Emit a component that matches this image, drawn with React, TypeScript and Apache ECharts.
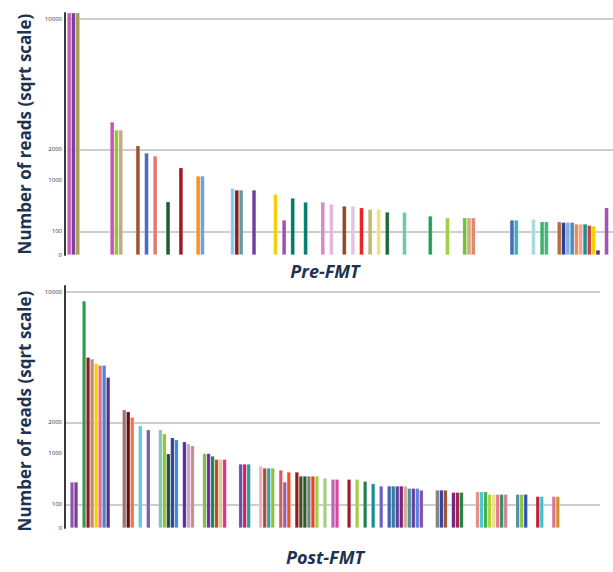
import React, { useEffect, useRef } from "react";
import * as echarts from "echarts";

// reads per taxon (null = empty position), ordered as in the figure
const preValues: (number | null)[] = [
  12000, 12000, 12000, null, null, null, null, null, null, null,
  3176, 2806, 2806, null, null, null, 2144, null, 1868, null,
  1760, null, null, 510, null, null, 1369, null, null, null,
  1121, 1121, null, null, null, null, null, null, 799, 759,
  759, null, null, 759, null, null, null, null, 662, null,
  220, null, 583, null, null, 504, null, null, null, 504,
  null, 467, null, null, 431, null, 431, null, 402, null,
  375, null, 375, null, 332, null, null, null, 327, null,
  null, null, null, null, 273, null, null, null, 250, null,
  null, null, 250, 250, 250, null, null, null, null, null,
  null, null, null, 220, 220, null, null, null, 229, null,
  199, 199, null, null, 199, 192, 192, 192, 173, 173,
  173, 158, 151, 4.5, null, 402, null,
];

const preColors: string[] = [
  "#c060b8", "#7a3f9a", "#a89c58",
  "#c855b0", "#8cc63f", "#c8a880",
  "#a0522d", "#4a6cc0", "#e07a70", "#1a5c30", "#a01828",
  "#f7941d", "#6fa0dc",
  "#8ec8ee", "#8b1a1a", "#5f9ea0",
  "#6f3fa0", "#f5d000", "#a050b0", "#007a6c", "#00806e",
  "#d08cc8", "#e0b8e0", "#8b4a2a", "#e4c4e4", "#e82020", "#c0b870", "#f0e080", "#1a6a3a",
  "#70c8a0", "#20a060", "#a0d040",
  "#70c040", "#d8a878", "#e08868",
  "#4a68b8", "#40b0b0", "#a8d8e8",
  "#3cb070", "#44b478",
  "#b07040", "#2c3c98", "#7eb0e0", "#4c8cc0", "#e09050", "#f4a0a0", "#1a9090", "#d04040", "#f8d000", "#602080",
  "#a050b0",
];

const postValues: (number | null)[] = [
  null, 380, 380, null, 9252, 5232, 5128, 4871, 4753, 4753,
  4078, null, null, null, 2513, 2429, 2200, null, 1879, null,
  1735, null, null, 1735, 1597, 991, 1464, 1400, null, 1337,
  1276, 1216, null, null, 997, 997, 931, 847, 847, 847,
  null, null, null, 735, 735, 735, null, null, 690, 646,
  646, 646, null, 604, 380, 563, null, 563, 485, 485,
  485, 485, 485, null, 449, null, 426, 426, null, null,
  426, null, 426, null, 392, null, 352, null, 317, null,
  317, 317, 317, 317, 317, 283, 283, 283, 259, null,
  null, null, 259, 259, 259, null, 229, 229, 229, null,
  null, null, 237, 237, 237, 204, 204, 204, 204, 204,
  null, null, 204, 204, 204, null, null, 180, 180, null,
  null, 180, 180, null, null, null, null, null, null, null,
  null, null, null,
];

const postColors: string[] = [
  "#9050b0", "#7a3a9a",
  "#2e9a50", "#901c1c", "#c08484", "#f8d000", "#f06890", "#4484d0", "#54308e",
  "#a07078", "#601010", "#f07050",
  "#60c8e0",
  "#7060b4",
  "#80c8b0", "#90c040", "#1a5030", "#304090", "#4484d0",
  "#503090", "#d0a0d0", "#c09090",
  "#80c040", "#6a30a0", "#208050", "#b05020", "#e0c890", "#e0308a",
  "#6050b0", "#d02050", "#20a0a0",
  "#f0b0c0", "#a05030", "#30a0a0", "#90c040",
  "#d06060", "#9060b0", "#f05020",
  "#901c1c", "#405020", "#2a5a30", "#808080", "#f04020", "#a0d040",
  "#a0d080",
  "#c060b0", "#e040a0",
  "#a01c2c",
  "#a0d040",
  "#208050",
  "#109090",
  "#7060c0",
  "#4060b0", "#3080a0", "#6040a0", "#802080", "#d0b090", "#5090a0", "#6040a0", "#6080e0", "#8050b0",
  "#808080", "#3040a0", "#a05030",
  "#702080", "#a02040", "#208040",
  "#e09080", "#40c8d8", "#40b040", "#b0d040", "#f0e080", "#f07090", "#309060", "#d08090",
  "#5090a0", "#90c040", "#3050b0",
  "#c02030", "#40c0d0",
  "#e07090", "#d09030",
];

const tickValues = [0, 100, 1000, 2000, 10000];
const gridLineValues = [100, 2000, 10000];
const panelTitles = ["Pre-FMT", "Post-FMT"];
const yAxisTitle = "Number of reads (sqrt scale)";

const NAVY = "#1d3350";

function buildData(values: (number | null)[], colors: string[]) {
  let k = 0;
  return values.map((v) =>
    v == null ? null : { value: Math.sqrt(v), itemStyle: { color: colors[k++] } }
  );
}

function yAxisFor(gridIndex: number, offset: number) {
  const custom = tickValues.map((v) => Math.sqrt(v));
  return {
    type: "value",
    gridIndex,
    min: 0,
    max: 102.5,
    offset,
    splitLine: { show: false },
    axisLine: { show: true, lineStyle: { color: "#3a3a3a", width: 2 } },
    axisTick: { show: false, customValues: custom },
    axisLabel: {
      customValues: custom,
      fontSize: 6,
      color: "#333",
      margin: 3,
      fontFamily: "Open Sans",
      formatter: (val: number) => String(Math.round(val * val)),
    },
  };
}

function markLineFor() {
  return {
    silent: true,
    z: 1,
    symbol: ["none", "none"],
    label: { show: false },
    lineStyle: { color: "#cdcdcd", width: 2, type: "solid" },
    emphasis: { disabled: true },
    data: gridLineValues.map((v) => ({ yAxis: Math.sqrt(v) })),
  };
}

function textEl(text: string, x: number, y: number, font: string, rotation = 0) {
  return {
    type: "text",
    x,
    y,
    rotation,
    style: {
      text,
      font,
      fill: NAVY,
      textAlign: "center",
      textVerticalAlign: "middle",
    },
  };
}

export default function App() {
  const ref = useRef<HTMLDivElement>(null);
  useEffect(() => {
    if (!ref.current) return;
    const chart = echarts.init(ref.current, null, { renderer: "svg" });
    const titleFont = 'bold 17px "Open Sans"';
    const panelFont = 'italic bold 18px "Open Sans"';
    const option: any = {
      animation: false,
      backgroundColor: "#ffffff",
      grid: [
        { left: 67, top: 13, width: 546, height: 242 },
        { left: 66, top: 286, width: 534, height: 242 },
      ],
      xAxis: [
        {
          type: "category",
          gridIndex: 0,
          data: preValues.map((_, i) => String(i)),
          axisLine: { show: false },
          axisTick: { show: false },
          axisLabel: { show: false },
          splitLine: { show: false },
        },
        {
          type: "category",
          gridIndex: 1,
          data: postValues.map((_, i) => String(i)),
          axisLine: { show: false },
          axisTick: { show: false },
          axisLabel: { show: false },
          splitLine: { show: false },
        },
      ],
      yAxis: [yAxisFor(0, 2), yAxisFor(1, 1)],
      series: [
        {
          type: "bar",
          xAxisIndex: 0,
          yAxisIndex: 0,
          barCategoryGap: "0%",
          clip: true,
          itemStyle: { borderColor: "rgba(255,255,255,0.35)", borderWidth: 0.6 },
          data: buildData(preValues, preColors),
          markLine: markLineFor(),
        },
        {
          type: "bar",
          xAxisIndex: 1,
          yAxisIndex: 1,
          barCategoryGap: "0%",
          clip: true,
          itemStyle: { borderColor: "rgba(255,255,255,0.35)", borderWidth: 0.6 },
          data: buildData(postValues, postColors),
          markLine: markLineFor(),
        },
      ],
      graphic: [
        textEl(yAxisTitle, 24, 134, titleFont, Math.PI / 2),
        textEl(yAxisTitle, 24, 411, titleFont, Math.PI / 2),
        textEl(panelTitles[0], 325, 271, panelFont),
        textEl(panelTitles[1], 325, 557, panelFont),
      ],
    };
    chart.setOption(option);
    return () => chart.dispose();
  }, []);
  return (
    <div
      ref={ref}
      style={{ position: "fixed", left: 0, top: 0, width: 613, height: 572 }}
    />
  );
}
